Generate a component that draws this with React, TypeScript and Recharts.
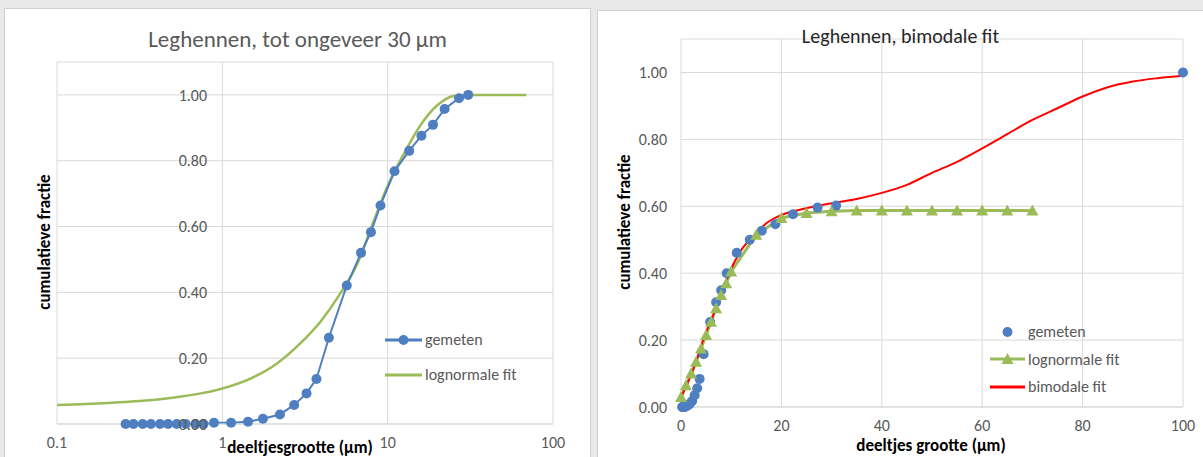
import React from "react";
import {
  ComposedChart,
  Line,
  Scatter,
  XAxis,
  YAxis,
  CartesianGrid,
  Legend,
} from "recharts";

// left chart: measured points + lognormal fit (log x-axis)
const leftSizes = [
  0.26, 0.29, 0.33, 0.37, 0.42, 0.47, 0.53, 0.6, 0.69, 0.77, 0.89, 1.13, 1.43,
  1.76, 2.23, 2.72, 3.23, 3.71, 4.41, 5.66, 6.9, 7.92, 9.05, 11.0, 13.5, 16.0,
  18.8, 22.1, 27.0, 30.7,
];
const leftMeasured = [
  0, 0, 0, 0, 0, 0, 0, 0, 0, 0, 0.004, 0.004, 0.007, 0.016, 0.029, 0.058,
  0.093, 0.137, 0.262, 0.421, 0.52, 0.583, 0.664, 0.768, 0.83, 0.876, 0.909,
  0.957, 0.99, 1.0,
];
const leftFitSizes = [
  0.1, 0.2, 0.3, 0.5, 0.74, 1, 1.48, 2.14, 2.96, 3.91, 5.16, 6.6, 8, 10, 12.5,
  15.7, 19.8, 25, 30, 69,
];
const leftFitValues = [
  0.058, 0.064, 0.069, 0.08, 0.093, 0.108, 0.138, 0.184, 0.245, 0.31, 0.396,
  0.49, 0.6, 0.724, 0.82, 0.906, 0.967, 0.997, 1.0, 1.0,
];
const leftXTicks = [0.1, 1, 10, 100];

// right chart: measured points, lognormal fit, bimodal fit (linear x-axis)
const rightSizes = [
  0.26, 0.29, 0.33, 0.37, 0.42, 0.47, 0.53, 0.6, 0.69, 0.77, 0.89, 1.13, 1.43,
  1.76, 2.23, 2.72, 3.23, 3.71, 4.5, 5.8, 7.0, 8.0, 9.1, 11.1, 13.7, 16.1,
  18.8, 22.3, 27.2, 30.9, 100,
];
const rightMeasured = [
  0, 0, 0, 0, 0, 0, 0, 0, 0, 0, 0.003, 0.003, 0.005, 0.01, 0.018, 0.035, 0.056,
  0.084, 0.158, 0.254, 0.313, 0.349, 0.4, 0.461, 0.5, 0.527, 0.546, 0.576,
  0.596, 0.602, 1.0,
];
const rightLogSizes = [
  0, 1, 2, 3, 4, 5, 6, 7, 8, 9, 10, 15, 20, 25, 30, 35, 40, 45, 50, 55, 60, 65,
  70,
];
const rightLogValues = [
  0.03, 0.065, 0.1, 0.135, 0.175, 0.215, 0.255, 0.295, 0.335, 0.37, 0.405,
  0.515, 0.565, 0.58, 0.585, 0.587, 0.587, 0.587, 0.587, 0.587, 0.587, 0.587,
  0.587,
];
const rightBiSizes = [
  0.2, 2.9, 4.4, 7.5, 9.6, 12, 15, 17, 20, 25, 30, 35, 40, 45, 50, 55, 60, 65,
  70, 75, 80, 85, 90, 95, 100,
];
const rightBiValues = [
  0.035, 0.13, 0.2, 0.314, 0.4, 0.469, 0.519, 0.549, 0.574, 0.594, 0.609,
  0.622, 0.64, 0.664, 0.7, 0.733, 0.773, 0.816, 0.858, 0.893, 0.928, 0.956,
  0.973, 0.983, 0.99,
];
const rightXTicks = [0, 20, 40, 60, 80, 100];
const yTicks = [0, 0.2, 0.4, 0.6, 0.8, 1.0];

const zip = (xs: number[], ys: number[]) => xs.map((x, i) => ({ x, y: ys[i] }));

const BLUE = "#4f7fc1";
const GREEN = "#9bbb59";
const RED = "#ff0000";
const GRID = "#d9d9d9";
const LABEL = "#595959";
const FONT = "Carlito, Lato, 'Open Sans', sans-serif";
const TICK = 16;

const Triangle = (props: any) => {
  const { cx, cy, index } = props;
  return (
    <polygon
      key={"tri-" + index}
      points={`${cx},${cy - 6} ${cx - 6},${cy + 5} ${cx + 6},${cy + 5}`}
      fill={GREEN}
    />
  );
};

const Dot = (props: any) => {
  const { cx, cy } = props;
  return <circle cx={cx} cy={cy} r={5} fill={BLUE} />;
};

type Item = { label: string; color: string; line: boolean; marker?: string };

const legendContent = (items: Item[], rowH: number, swatchW: number) => () => (
  <div style={{ fontFamily: FONT, fontSize: 16, color: LABEL }}>
    {items.map((it) => (
      <div
        key={it.label}
        style={{ display: "flex", alignItems: "center", height: rowH, whiteSpace: "nowrap" }}
      >
        <svg width={swatchW} height={14} style={{ marginRight: 3 }}>
          {it.line && (
            <line x1={0} y1={7} x2={swatchW} y2={7} stroke={it.color} strokeWidth={3} />
          )}
          {it.marker === "circle" && (
            <circle cx={swatchW / 2} cy={7} r={5} fill={it.color} />
          )}
          {it.marker === "triangle" && (
            <polygon
              points={`${swatchW / 2},1 ${swatchW / 2 - 6},12 ${swatchW / 2 + 6},12`}
              fill={it.color}
            />
          )}
        </svg>
        <span>{it.label}</span>
      </div>
    ))}
  </div>
);

// y labels of the left chart sit next to the x = 1 gridline
const leftYTick = (props: any) => {
  const { x, y, payload, index } = props;
  return (
    <text
      key={"ly-" + index}
      x={x + 150}
      y={y}
      dy="0.35em"
      textAnchor="end"
      fill={LABEL}
      fontSize={TICK}
      fontFamily={FONT}
    >
      {Number(payload.value).toFixed(2)}
    </text>
  );
};

const frame: React.CSSProperties = {
  position: "absolute",
  background: "#fff",
  outline: "1px solid #d0d0d0",
  fontFamily: FONT,
};

const App = () => {
  return (
    <div style={{ position: "absolute", left: 0, top: 0, width: 1203, height: 457, background: "#e9e9e9", overflow: "hidden" }}>
      {/* left panel */}
      <div style={{ ...frame, left: 5, top: 9, width: 585, height: 448 }}>
        <ComposedChart width={585} height={448} margin={{ top: 53, right: 37, bottom: 0, left: 0 }}>
          <CartesianGrid stroke={GRID} />
          <XAxis
            type="number"
            dataKey="x"
            scale="log"
            domain={[0.1, 100]}
            ticks={leftXTicks}
            allowDataOverflow
            height={33}
            tickSize={0}
            tickMargin={13}
            axisLine={{ stroke: GRID }}
            tick={{ fill: LABEL, fontSize: TICK, fontFamily: FONT }}
            tickFormatter={(v) => String(v)}
          />
          <YAxis
            type="number"
            dataKey="y"
            domain={[0, 1.1]}
            ticks={yTicks}
            interval={0}
            width={52}
            tickSize={0}
            tickMargin={0}
            axisLine={false}
            tick={leftYTick}
          />
          <Line
            data={zip(leftFitSizes, leftFitValues)}
            dataKey="y"
            type="monotone"
            stroke={GREEN}
            strokeWidth={2.5}
            dot={false}
            isAnimationActive={false}
          />
          <Line
            data={zip(leftSizes, leftMeasured)}
            dataKey="y"
            type="linear"
            stroke={BLUE}
            strokeWidth={2}
            dot={{ r: 5, fill: BLUE, stroke: BLUE, strokeWidth: 0 }}
            isAnimationActive={false}
          />
          <Legend
            layout="vertical"
            align="center"
            verticalAlign="middle"
            wrapperStyle={{ left: 380, top: 313, width: "auto" }}
            content={legendContent(
              [
                { label: "gemeten", color: BLUE, line: true, marker: "circle" },
                { label: "lognormale fit", color: GREEN, line: true },
              ],
              35,
              37
            )}
          />
        </ComposedChart>
        <div style={{ position: "absolute", left: 0, width: 585, top: 16, textAlign: "center", fontSize: 23, color: LABEL }}>
          Leghennen, tot ongeveer 30 µm
        </div>
        <div style={{ position: "absolute", left: 39, top: 233, transform: "translate(-50%, -50%) rotate(-90deg)", whiteSpace: "nowrap", fontSize: 17, fontWeight: 700, color: "#000" }}>
          cumulatieve fractie
        </div>
        <div style={{ position: "absolute", left: 295, top: 438, transform: "translate(-50%, -50%)", whiteSpace: "nowrap", fontSize: 17, fontWeight: 700, color: "#000" }}>
          deeltjesgrootte (µm)
        </div>
      </div>

      {/* right panel */}
      <div style={{ ...frame, left: 598, top: 11, width: 605, height: 446 }}>
        <ComposedChart width={605} height={446} margin={{ top: 28, right: 20, bottom: 0, left: 0 }}>
          <CartesianGrid stroke={GRID} />
          <XAxis
            type="number"
            dataKey="x"
            domain={[0, 100]}
            ticks={rightXTicks}
            height={50}
            tickSize={0}
            tickMargin={13}
            axisLine={{ stroke: GRID }}
            tick={{ fill: LABEL, fontSize: TICK, fontFamily: FONT }}
          />
          <YAxis
            type="number"
            dataKey="y"
            domain={[0, 1.1]}
            ticks={yTicks}
            interval={0}
            width={83}
            tickSize={0}
            tickMargin={14}
            axisLine={false}
            tick={{ fill: LABEL, fontSize: TICK, fontFamily: FONT }}
            tickFormatter={(v) => v.toFixed(2)}
          />
          <Line
            data={zip(rightLogSizes, rightLogValues)}
            dataKey="y"
            type="linear"
            stroke={GREEN}
            strokeWidth={3}
            dot={<Triangle />}
            isAnimationActive={false}
          />
          <Scatter
            data={zip(rightSizes, rightMeasured)}
            dataKey="y"
            fill={BLUE}
            shape={<Dot />}
            isAnimationActive={false}
          />
          <Line
            data={zip(rightBiSizes, rightBiValues)}
            dataKey="y"
            type="monotone"
            stroke={RED}
            strokeWidth={2}
            dot={false}
            isAnimationActive={false}
          />
          <Legend
            layout="vertical"
            align="center"
            verticalAlign="middle"
            wrapperStyle={{ left: 392, top: 307, width: "auto" }}
            content={legendContent(
              [
                { label: "gemeten", color: BLUE, line: false, marker: "circle" },
                { label: "lognormale fit", color: GREEN, line: true, marker: "triangle" },
                { label: "bimodale fit", color: RED, line: true },
              ],
              27.5,
              35
            )}
          />
        </ComposedChart>
        <div style={{ position: "absolute", left: 0, width: 605, top: 13, textAlign: "center", fontSize: 20, color: "#262626" }}>
          Leghennen, bimodale fit
        </div>
        <div style={{ position: "absolute", left: 26, top: 211, transform: "translate(-50%, -50%) rotate(-90deg)", whiteSpace: "nowrap", fontSize: 17, fontWeight: 700, color: "#000" }}>
          cumulatieve fractie
        </div>
        <div style={{ position: "absolute", left: 333, top: 434, transform: "translate(-50%, -50%)", whiteSpace: "nowrap", fontSize: 17, fontWeight: 700, color: "#000" }}>
          deeltjes grootte (µm)
        </div>
      </div>
    </div>
  );
};

export default App;
